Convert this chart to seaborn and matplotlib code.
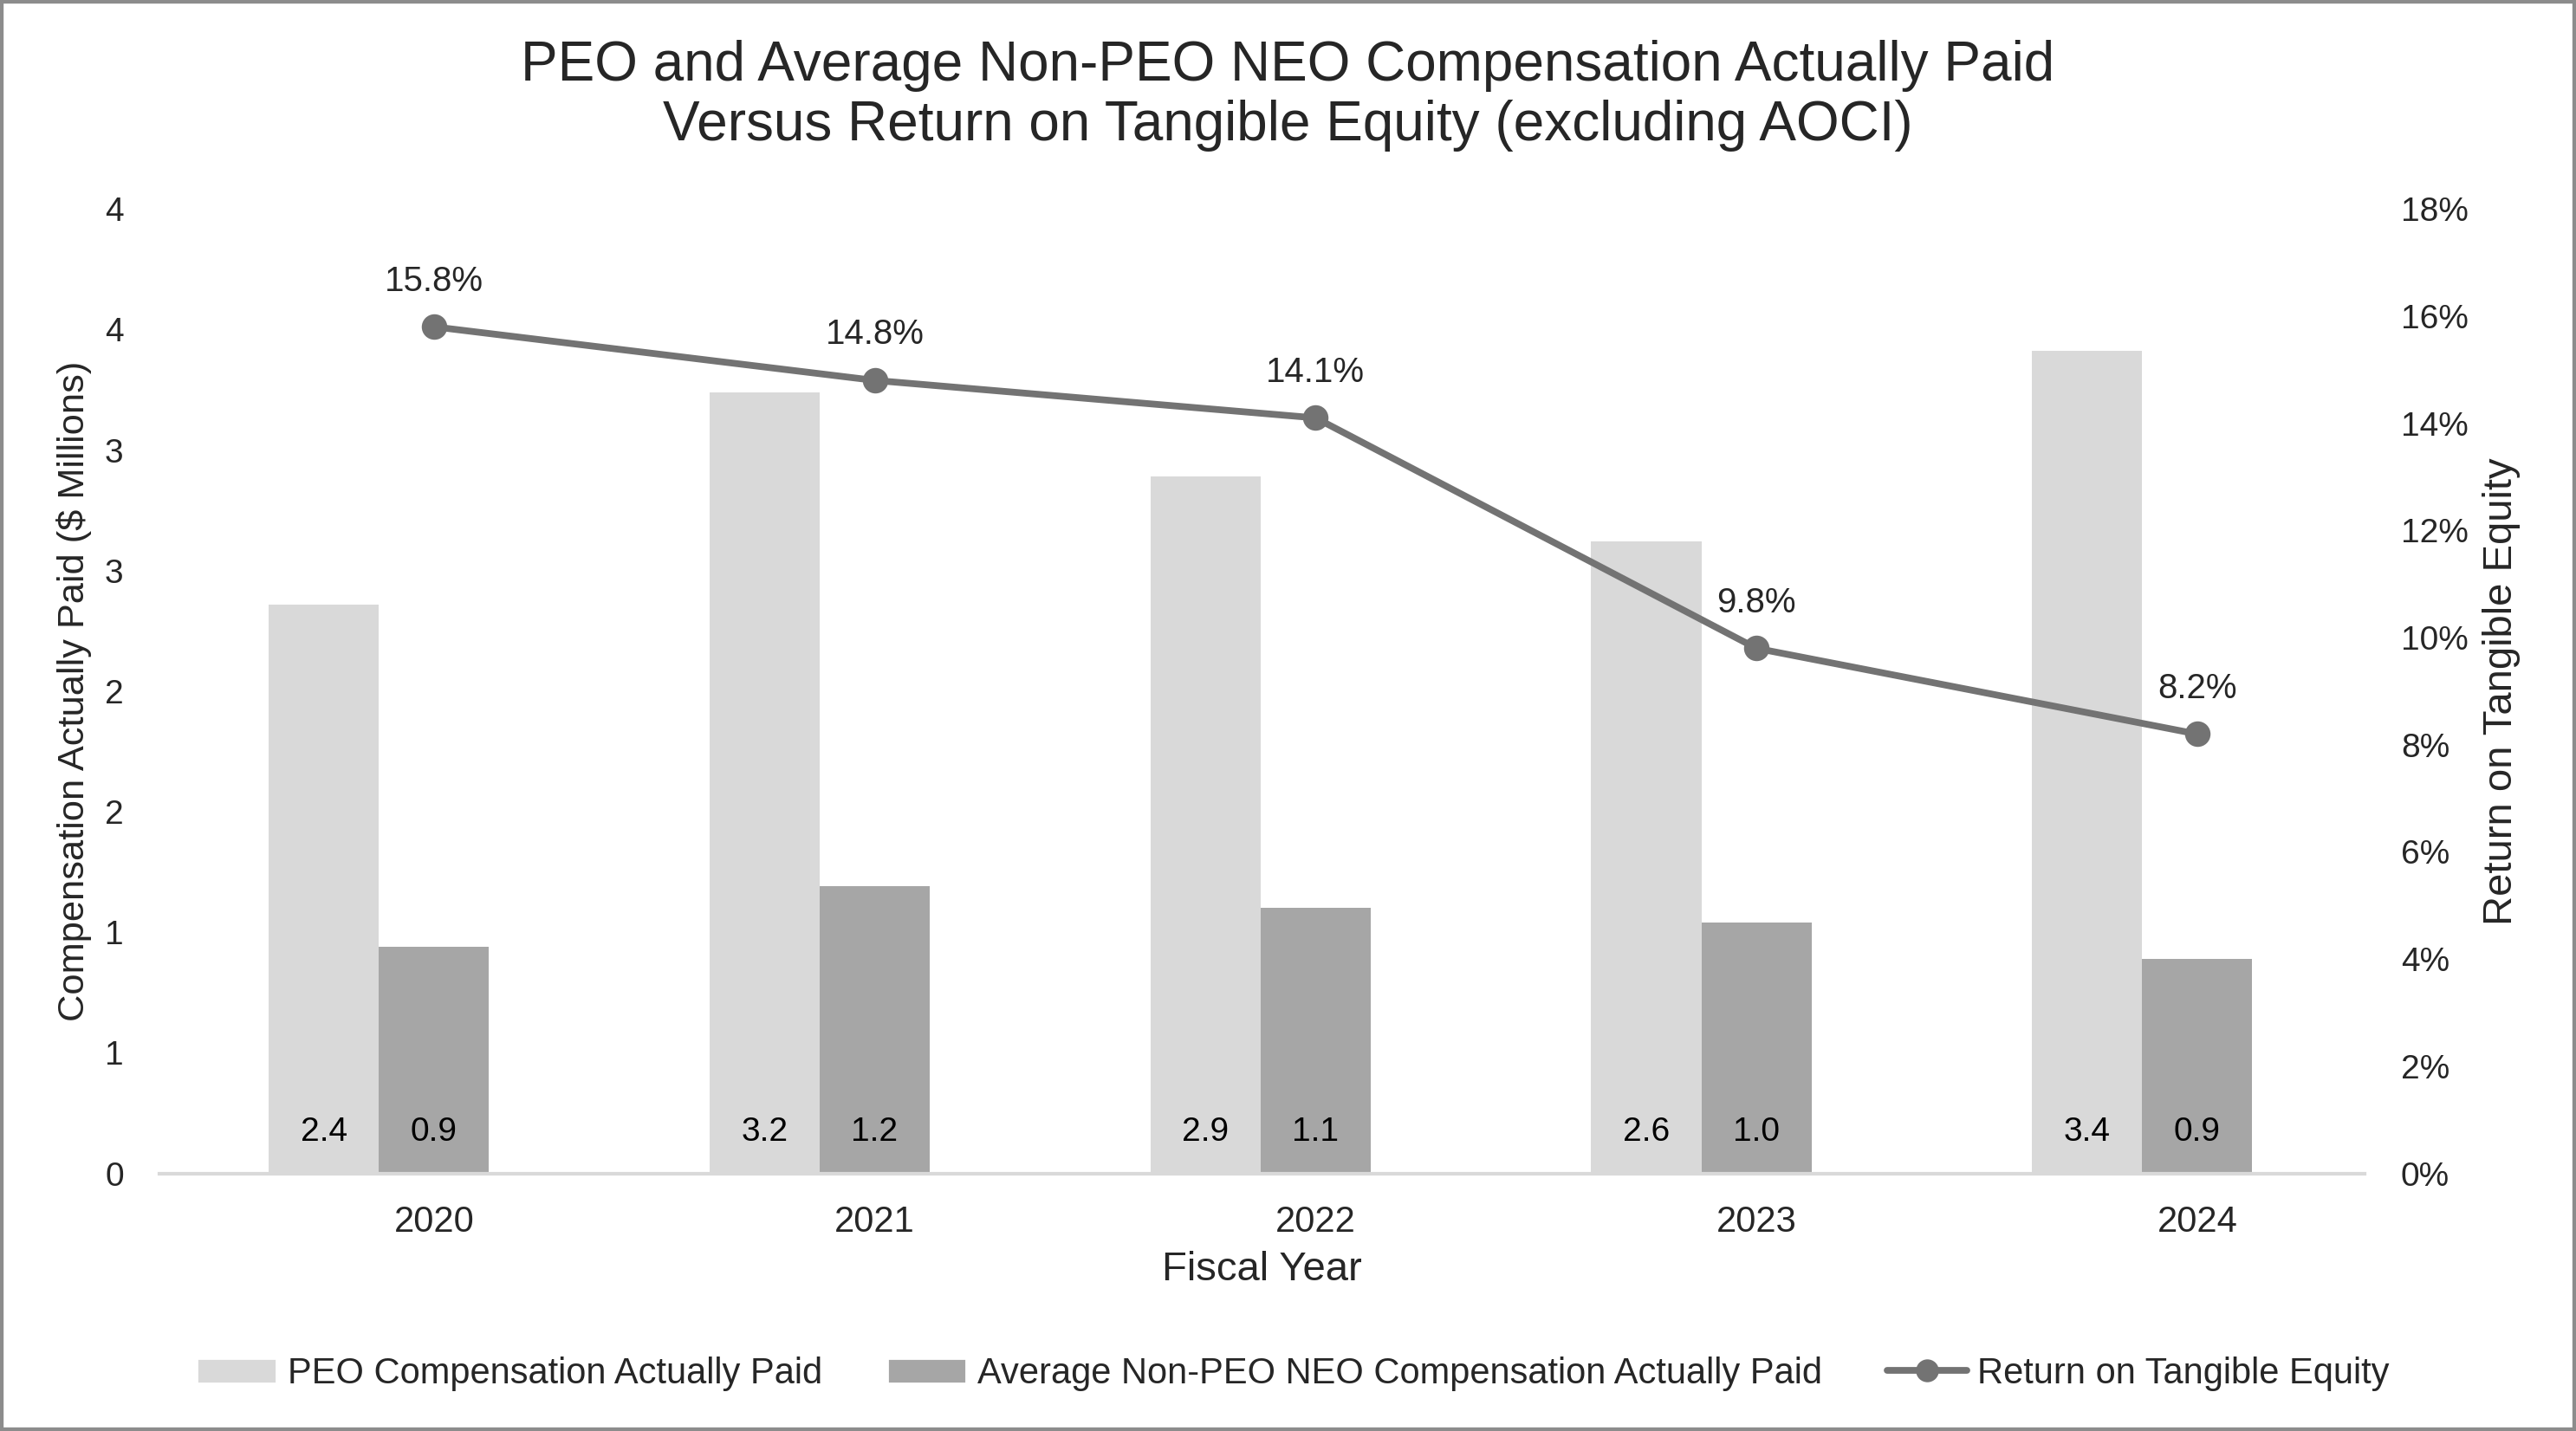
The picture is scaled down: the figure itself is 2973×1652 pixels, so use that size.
import numpy as np
import pandas as pd
import matplotlib.pyplot as plt
import seaborn as sns
from matplotlib.patches import Patch, Rectangle
from matplotlib.lines import Line2D

# values
years = ['2020', '2021', '2022', '2023', '2024']
peo_cap = [2.36, 3.24, 2.89, 2.62, 3.41]
neo_cap = [0.94, 1.19, 1.10, 1.04, 0.89]
rote = [15.8, 14.8, 14.1, 9.8, 8.2]
series = ['PEO Compensation Actually Paid', 'Average Non-PEO NEO Compensation Actually Paid']
line_name = 'Return on Tangible Equity'
left_ticks = [0, 0.5, 1, 1.5, 2, 2.5, 3, 3.5, 4]
left_tick_labels = ['0', '1', '1', '2', '2', '3', '3', '4', '4']
right_ticks = [0, 2, 4, 6, 8, 10, 12, 14, 16, 18]
right_tick_labels = ['0%', '2%', '4%', '6%', '8%', '10%', '12%', '14%', '16%', '18%']

bar_colors = ['#d9d9d9', '#a6a6a6', '#ffffff']
line_color = '#737373'

sns.set_theme(style='white')
plt.rcParams['font.family'] = ['Liberation Sans', 'DejaVu Sans']

df = pd.DataFrame({
    'Year': years * 2,
    'Series': [series[0]] * len(years) + [series[1]] * len(years),
    'Value': peo_cap + neo_cap,
})

fig, ax = plt.subplots(figsize=(14.865, 8.26), dpi=200)
fig.subplots_adjust(left=0.062, right=0.918, bottom=0.18, top=0.854)

# the line series keeps an (empty) slot in each bar group, like the original
sns.barplot(data=df, x='Year', y='Value', hue='Series',
            hue_order=series + [line_name], palette=bar_colors,
            width=0.75, saturation=1, legend=False, linewidth=0, ax=ax)

# value labels sitting at the base of each bar
for cont, vals in zip(ax.containers, [peo_cap, neo_cap]):
    for p, v in zip(cont.patches, vals):
        ax.text(p.get_x() + p.get_width() / 2, 0.17, f'{v:.1f}',
                ha='center', va='center', fontsize=14, color='black')

xlim = (-0.622, len(years) - 0.62)
ax.set_ylim(0, 4)
ax.set_yticks(left_ticks)
ax.set_yticklabels(left_tick_labels)
ax.set_xlim(*xlim)
ax.tick_params(axis='y', length=0, pad=15, labelsize=14)
ax.tick_params(axis='x', length=0, pad=13, labelsize=15)
for s in ['top', 'left', 'right']:
    ax.spines[s].set_visible(False)
ax.spines['bottom'].set_color('#d9d9d9')
ax.spines['bottom'].set_linewidth(1.5)

ax.set_xlabel('Fiscal Year', fontsize=17, va='center')
ax.xaxis.set_label_coords(0.5, -0.1)
ax.set_ylabel('Compensation Actually Paid ($ Millions)', fontsize=15.6, va='center')
ax.yaxis.set_label_coords(-0.039, 0.5)

ax2 = ax.twinx()
sns.pointplot(x=years, y=rote, color=line_color, markers='o', markersize=8.5,
              linewidth=2.8, errorbar=None, ax=ax2)
ax2.set_ylim(0, 18)
ax2.set_yticks(right_ticks)
ax2.set_yticklabels(right_tick_labels)
ax2.set_xlim(*xlim)
ax2.tick_params(axis='y', length=0, pad=15, labelsize=14)
for s in ['top', 'left', 'right', 'bottom']:
    ax2.spines[s].set_visible(False)
ax2.set_ylabel(line_name, fontsize=17, rotation=90, va='center')
ax2.yaxis.set_label_coords(1.062, 0.5)

xs, ys = ax2.lines[0].get_data()
for x, y in zip(xs, ys):
    ax2.annotate(f'{y:.1f}%', (x, y), xytext=(0, 19), textcoords='offset points',
                 ha='center', va='center', fontsize=14.5)

fig.text(0.5, 0.933,
         'PEO and Average Non-PEO NEO Compensation Actually Paid\n'
         'Versus Return on Tangible Equity (excluding AOCI)',
         ha='center', va='center', fontsize=23, linespacing=1.2)

handles = [Patch(facecolor=bar_colors[0]), Patch(facecolor=bar_colors[1]),
           Line2D([], [], color=line_color, linewidth=2.8, marker='o', markersize=8.5)]
fig.legend(handles, series + [line_name], loc='center', bbox_to_anchor=(0.502, 0.04),
           ncol=3, frameon=False, fontsize=15, handlelength=2.2, handletextpad=0.3,
           columnspacing=1.8)

fig.add_artist(Rectangle((0, 0), 1, 1, transform=fig.transFigure, fill=False,
                         edgecolor='#8c8c8c', linewidth=3))

plt.savefig('out.png', dpi=200)
